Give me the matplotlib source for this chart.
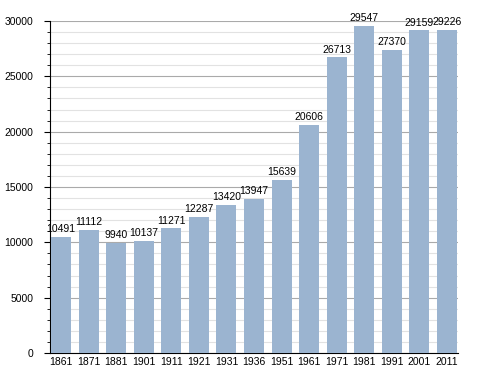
import numpy as np
import matplotlib
matplotlib.use("Agg")
import matplotlib.pyplot as plt
from matplotlib.ticker import MultipleLocator

years = ["1861", "1871", "1881", "1901", "1911", "1921", "1931", "1936",
         "1951", "1961", "1971", "1981", "1991", "2001", "2011"]
population = [10491, 11112, 9940, 10137, 11271, 12287, 13420, 13947,
              15639, 20606, 26713, 29547, 27370, 29159, 29226]

plt.rcParams["font.family"] = ["Liberation Sans", "DejaVu Sans"]
plt.rcParams["font.size"] = 7.5

fig = plt.figure(figsize=(4.88, 3.73), dpi=100)
ax = fig.add_axes([0.1025, 0.0536, 0.836, 0.89])

x = np.arange(len(years))
ax.bar(x, population, width=0.73, color="#9bb4d0", zorder=3)
for xi, v in zip(x, population):
    ax.text(xi, v + 250, str(v), ha="center", va="bottom", fontsize=7.5, zorder=4)

ax.set_xlim(-0.4, len(years) - 0.6)
ax.set_ylim(0, 30000)
ax.set_xticks(x)
ax.set_xticklabels(years)
ax.yaxis.set_major_locator(MultipleLocator(5000))
ax.yaxis.set_minor_locator(MultipleLocator(1000))
ax.grid(True, axis="y", which="major", color="#aaaaaa", linewidth=0.8, zorder=0)
ax.grid(True, axis="y", which="minor", color="#e2e2e2", linewidth=0.8, zorder=0)

for s in ["top", "right"]:
    ax.spines[s].set_visible(False)
ax.spines["left"].set_linewidth(0.8)
ax.spines["bottom"].set_linewidth(0.8)
ax.tick_params(axis="x", length=0, pad=3)
ax.tick_params(axis="y", which="major", length=4, pad=8)
ax.tick_params(axis="y", which="minor", length=2)

fig.savefig("out.png", dpi=100)
